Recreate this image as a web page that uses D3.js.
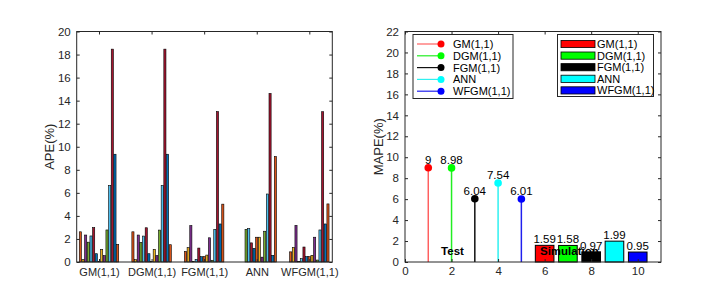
<!DOCTYPE html>
<html>
<head>
<meta charset="utf-8">
<script src="https://cdn.jsdelivr.net/npm/d3@7"></script>
<style>
  body { margin: 0; background: #fff; }
  svg { display: block; font-family: Arial, "Liberation Sans", sans-serif; }
  .tick text { fill: #262626; font-size: 11.5px; }
  .xcat .tick text { font-size: 11px; }
</style>
</head>
<body>
<svg width="719" height="296"></svg>
<script>
// ---- data: left panel (APE of each sample, grouped by model) ----
var models = ["GM(1,1)", "DGM(1,1)", "FGM(1,1)", "ANN", "WFGM(1,1)"];
var gmApe   = [2.62, 0.2, 2.34, 1.72, 2.26, 2.98, 0.72, 0.05, 1.1, 0.55, 2.78, 6.64, 18.47, 9.35, 1.53];
var dgmApe  = [2.62, 0.2, 2.34, 1.7, 2.25, 2.97, 0.72, 0.05, 1.1, 0.55, 2.77, 6.64, 18.47, 9.35, 1.5];
var fgmApe  = [0.92, 1.25, 3.15, 0.05, 0.23, 1.21, 0.46, 0.46, 0.6, 2.1, 0.15, 2.83, 13.05, 3.3, 5.02];
var annApe  = [0, 0, 0, 2.83, 2.9, 1.66, 1.18, 2.15, 2.15, 0.42, 2.67, 5.9, 14.62, 0.58, 9.15];
var wfgmApe = [0.88, 1.27, 3.17, 0.05, 0.29, 1.3, 0.46, 0.46, 0.58, 2.15, 0.17, 2.78, 13.04, 3.3, 5.04];
var apeGroups = [gmApe, dgmApe, fgmApe, annApe, wfgmApe];
var barColors = ["#d95319", "#edb120", "#7e2f8e", "#77ac30", "#4dbeee", "#a2142f", "#0072bd"];

// ---- data: right panel (MAPE) ----
var testX = [1, 2, 3, 4, 5];
var testMape = [9, 8.98, 6.04, 7.54, 6.01];
var simX = [6, 7, 8, 9, 10];
var simMape = [1.59, 1.58, 0.97, 1.99, 0.95];
var modelColors = ["#ff0000", "#00ff00", "#000000", "#00ffff", "#0000ff"];
var stemColors = ["#ff6060", "#22ee22", "#111111", "#30f0f0", "#2020ee"];
var yTicksLeft = d3.range(0, 21, 2);
var yTicksRight = d3.range(0, 23, 2);
var xTicksRight = [0, 2, 4, 6, 8, 10];

var svg = d3.select("svg");
svg.append("rect").attr("width", 719).attr("height", 296).attr("fill", "#fff");

// ================= left panel =================
var L = { x0: 76.7, x1: 332.3, y0: 262, y1: 31.5 };
var xl = d3.scaleLinear().domain([0.576, 5.437]).range([L.x0, L.x1]);
var yl = d3.scaleLinear().domain([0, 20]).range([L.y0, L.y1]);

var nSer = 15, groupW = 0.76, step = groupW / nSer, barW = step * 0.8;

var gl = svg.append("g");
apeGroups.forEach(function (vals, gi) {
    gl.selectAll(null)
        .data(vals)
        .enter()
        .append("rect")
        .attr("x", function (d, i) { return xl(gi + 1 - groupW / 2 + step * (i + 0.5) - barW / 2); })
        .attr("width", xl(barW) - xl(0))
        .attr("y", function (d) { return yl(d); })
        .attr("height", function (d) { return yl(0) - yl(d); })
        .attr("fill", function (d, i) { return barColors[i % 7]; })
        .attr("stroke", "#000")
        .attr("stroke-width", 0.6);
});

gl.append("g")
    .attr("transform", "translate(" + L.x0 + ",0)")
    .call(d3.axisLeft(yl).tickValues(yTicksLeft).tickSizeInner(-3).tickSizeOuter(0).tickPadding(6))
    .call(function (g) { g.select(".domain").remove(); });
gl.append("g")
    .attr("transform", "translate(" + L.x1 + ",0)")
    .call(d3.axisRight(yl).tickValues(yTicksLeft).tickSizeInner(-3).tickSizeOuter(0).tickFormat(""))
    .call(function (g) { g.select(".domain").remove(); });
gl.append("g")
    .attr("class", "xcat")
    .attr("transform", "translate(0," + L.y0 + ")")
    .call(d3.axisBottom(xl).tickValues([1, 2, 3, 4, 5]).tickSizeInner(-3).tickSizeOuter(0).tickPadding(6)
        .tickFormat(function (d) { return models[d - 1]; }))
    .call(function (g) { g.select(".domain").remove(); });
gl.append("g")
    .attr("transform", "translate(0," + L.y1 + ")")
    .call(d3.axisTop(xl).tickValues([1, 2, 3, 4, 5]).tickSizeInner(-3).tickSizeOuter(0).tickFormat(""))
    .call(function (g) { g.select(".domain").remove(); });
gl.selectAll(".tick line").attr("stroke", "#262626");
gl.append("rect")
    .attr("x", L.x0).attr("y", L.y1)
    .attr("width", L.x1 - L.x0).attr("height", L.y0 - L.y1)
    .attr("fill", "none").attr("stroke", "#262626").attr("stroke-width", 1);
gl.append("text")
    .attr("transform", "translate(54," + (L.y0 + L.y1) / 2 + ") rotate(-90)")
    .attr("text-anchor", "middle")
    .attr("font-size", 13)
    .attr("fill", "#262626")
    .text("APE(%)");

// ================= right panel =================
var R = { x0: 405, x1: 661, y0: 262, y1: 31.5 };
var xr = d3.scaleLinear().domain([0, 11]).range([R.x0, R.x1]);
var yr = d3.scaleLinear().domain([0, 22]).range([R.y0, R.y1]);

var gr = svg.append("g");

// simulation bars
gr.selectAll(".simbar")
    .data(simMape)
    .enter()
    .append("rect")
    .attr("x", function (d, i) { return xr(simX[i] - 0.4); })
    .attr("width", xr(0.8) - xr(0))
    .attr("y", function (d) { return yr(d); })
    .attr("height", function (d) { return yr(0) - yr(d); })
    .attr("fill", function (d, i) { return modelColors[i]; })
    .attr("stroke", "#000")
    .attr("stroke-width", 1);

gr.selectAll(".simlab")
    .data(simMape)
    .enter()
    .append("text")
    .attr("x", function (d, i) { return xr(simX[i]); })
    .attr("y", function (d) { return yr(d) - 2; })
    .attr("text-anchor", "middle")
    .attr("font-size", 11.5)
    .text(function (d) { return d.toFixed(2); });

// test stems
gr.selectAll(".stem")
    .data(testMape)
    .enter()
    .append("line")
    .attr("x1", function (d, i) { return xr(testX[i]); })
    .attr("x2", function (d, i) { return xr(testX[i]); })
    .attr("y1", yr(0))
    .attr("y2", function (d) { return yr(d); })
    .attr("stroke", function (d, i) { return stemColors[i]; })
    .attr("stroke-width", 1.5);
gr.selectAll(".dot")
    .data(testMape)
    .enter()
    .append("circle")
    .attr("cx", function (d, i) { return xr(testX[i]); })
    .attr("cy", function (d) { return yr(d); })
    .attr("r", 3.8)
    .attr("fill", function (d, i) { return modelColors[i]; });
gr.selectAll(".testlab")
    .data(testMape)
    .enter()
    .append("text")
    .attr("x", function (d, i) { return xr(testX[i]); })
    .attr("y", function (d) { return yr(d) - 4; })
    .attr("text-anchor", "middle")
    .attr("font-size", 11.5)
    .text(function (d) { return d; });

gr.append("text").attr("x", xr(1.55)).attr("y", 255)
    .attr("font-size", 11.5).attr("font-weight", "bold").text("Test");
gr.append("text").attr("x", xr(5.8)).attr("y", 255)
    .attr("font-size", 11.5).attr("font-weight", "bold").text("Simulation");

gr.append("g")
    .attr("transform", "translate(" + R.x0 + ",0)")
    .call(d3.axisLeft(yr).tickValues(yTicksRight).tickSizeInner(-3).tickSizeOuter(0).tickPadding(6))
    .call(function (g) { g.select(".domain").remove(); });
gr.append("g")
    .attr("transform", "translate(" + R.x1 + ",0)")
    .call(d3.axisRight(yr).tickValues(yTicksRight).tickSizeInner(-3).tickSizeOuter(0).tickFormat(""))
    .call(function (g) { g.select(".domain").remove(); });
gr.append("g")
    .attr("transform", "translate(0," + R.y0 + ")")
    .call(d3.axisBottom(xr).tickValues(xTicksRight).tickSizeInner(-3).tickSizeOuter(0).tickPadding(5))
    .call(function (g) { g.select(".domain").remove(); });
gr.append("g")
    .attr("transform", "translate(0," + R.y1 + ")")
    .call(d3.axisTop(xr).tickValues(xTicksRight).tickSizeInner(-3).tickSizeOuter(0).tickFormat(""))
    .call(function (g) { g.select(".domain").remove(); });
gr.selectAll(".tick line").attr("stroke", "#262626");
gr.append("rect")
    .attr("x", R.x0).attr("y", R.y1)
    .attr("width", R.x1 - R.x0).attr("height", R.y0 - R.y1)
    .attr("fill", "none").attr("stroke", "#262626").attr("stroke-width", 1);
gr.append("text")
    .attr("transform", "translate(383," + (R.y0 + R.y1) / 2 + ") rotate(-90)")
    .attr("text-anchor", "middle")
    .attr("font-size", 13)
    .attr("fill", "#262626")
    .text("MAPE(%)");

// legend: stems
var leg1 = gr.append("g");
leg1.append("rect").attr("x", 413).attr("y", 34.5).attr("width", 100).attr("height", 64)
    .attr("fill", "#fff").attr("stroke", "#262626").attr("stroke-width", 1);
models.forEach(function (m, i) {
    var y = 44 + i * 11.8;
    leg1.append("line").attr("x1", 417).attr("x2", 441).attr("y1", y).attr("y2", y)
        .attr("stroke", stemColors[i]).attr("stroke-width", 1.2);
    leg1.append("circle").attr("cx", 441).attr("cy", y).attr("r", 3.5).attr("fill", modelColors[i]);
    leg1.append("text").attr("x", 453).attr("y", y + 4).attr("font-size", 11).text(m);
});

// legend: bars
var leg2 = gr.append("g");
leg2.append("rect").attr("x", 557.5).attr("y", 34.5).attr("width", 96).attr("height", 62)
    .attr("fill", "#fff").attr("stroke", "#262626").attr("stroke-width", 1);
models.forEach(function (m, i) {
    var y = 44 + i * 11.6;
    leg2.append("rect").attr("x", 561).attr("y", y - 3.6).attr("width", 34).attr("height", 7.2)
        .attr("fill", modelColors[i]).attr("stroke", "#000").attr("stroke-width", 0.8);
    leg2.append("text").attr("x", 597).attr("y", y + 4).attr("font-size", 11).text(m);
});
</script>
</body>
</html>
